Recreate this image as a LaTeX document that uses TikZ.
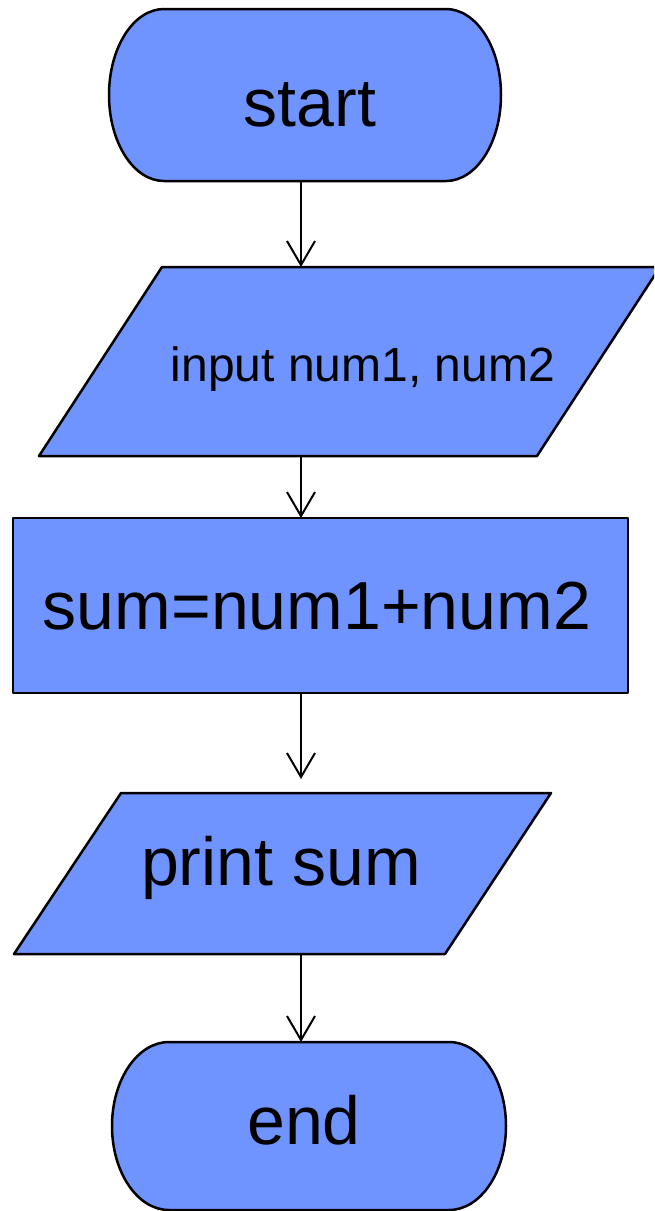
\documentclass[tikz,border=0pt]{standalone}
\usepackage{fontspec}
\setmainfont{Liberation Sans}
\usetikzlibrary{arrows.meta}
\definecolor{boxblue}{RGB}{112,148,255}
\begin{document}
\begin{tikzpicture}[x=1pt,y=1pt,
  shapebox/.style={fill=boxblue,draw=black,line width=2.5pt,line join=round},
  bigtext/.style={font=\fontsize{68}{80}\selectfont,inner sep=0pt,anchor=base},
  smalltext/.style={font=\fontsize{48}{56}\selectfont,inner sep=0pt,anchor=base},
  flow/.style={draw=black,line width=2pt,-{Straight Barb[length=24pt,width=28pt]}}]
\useasboundingbox (0,0) rectangle (654,-1211);
\clip (0,0) rectangle (654,-1211);

% start terminal
\path[shapebox] (164,-9) -- (446,-9) arc[start angle=90,end angle=-90,x radius=55,y radius=86]
  -- (164,-181) arc[start angle=270,end angle=90,x radius=55,y radius=86] -- cycle;
\node[bigtext] (start) at (310,-126) {start};
\coordinate (start-out) at (301,-181);

% input parallelogram
\path[shapebox] (162,-267) -- (660,-267) -- (537,-456) -- (39,-456) -- cycle;
\node[smalltext] (input) at (363,-381) {input num1, num2};
\coordinate (input-in) at (301,-267);
\coordinate (input-out) at (301,-456);

% process rectangle
\path[shapebox] (13,-518) rectangle (628,-693);
\node[bigtext] (sum) at (317,-629) {sum=num1+num2};
\coordinate (sum-in) at (301,-518);
\coordinate (sum-out) at (301,-693);

% print parallelogram
\path[shapebox] (121,-793) -- (551,-793) -- (445,-954) -- (14,-954) -- cycle;
\node[bigtext] (print) at (281,-885) {print sum};
\coordinate (print-in) at (301,-779);
\coordinate (print-out) at (301,-954);

% end terminal
\path[shapebox] (169,-1042) -- (449,-1042) arc[start angle=90,end angle=-90,x radius=57,y radius=84]
  -- (169,-1210) arc[start angle=270,end angle=90,x radius=57,y radius=84] -- cycle;
\node[bigtext] (end) at (304,-1144) {end};
\coordinate (end-in) at (301,-1042);

% connectors
\draw[flow] (start-out) -- (input-in);
\draw[flow] (input-out) -- (sum-in);
\draw[flow] (sum-out) -- (print-in);
\draw[flow] (print-out) -- (end-in);
\end{tikzpicture}
\end{document}
